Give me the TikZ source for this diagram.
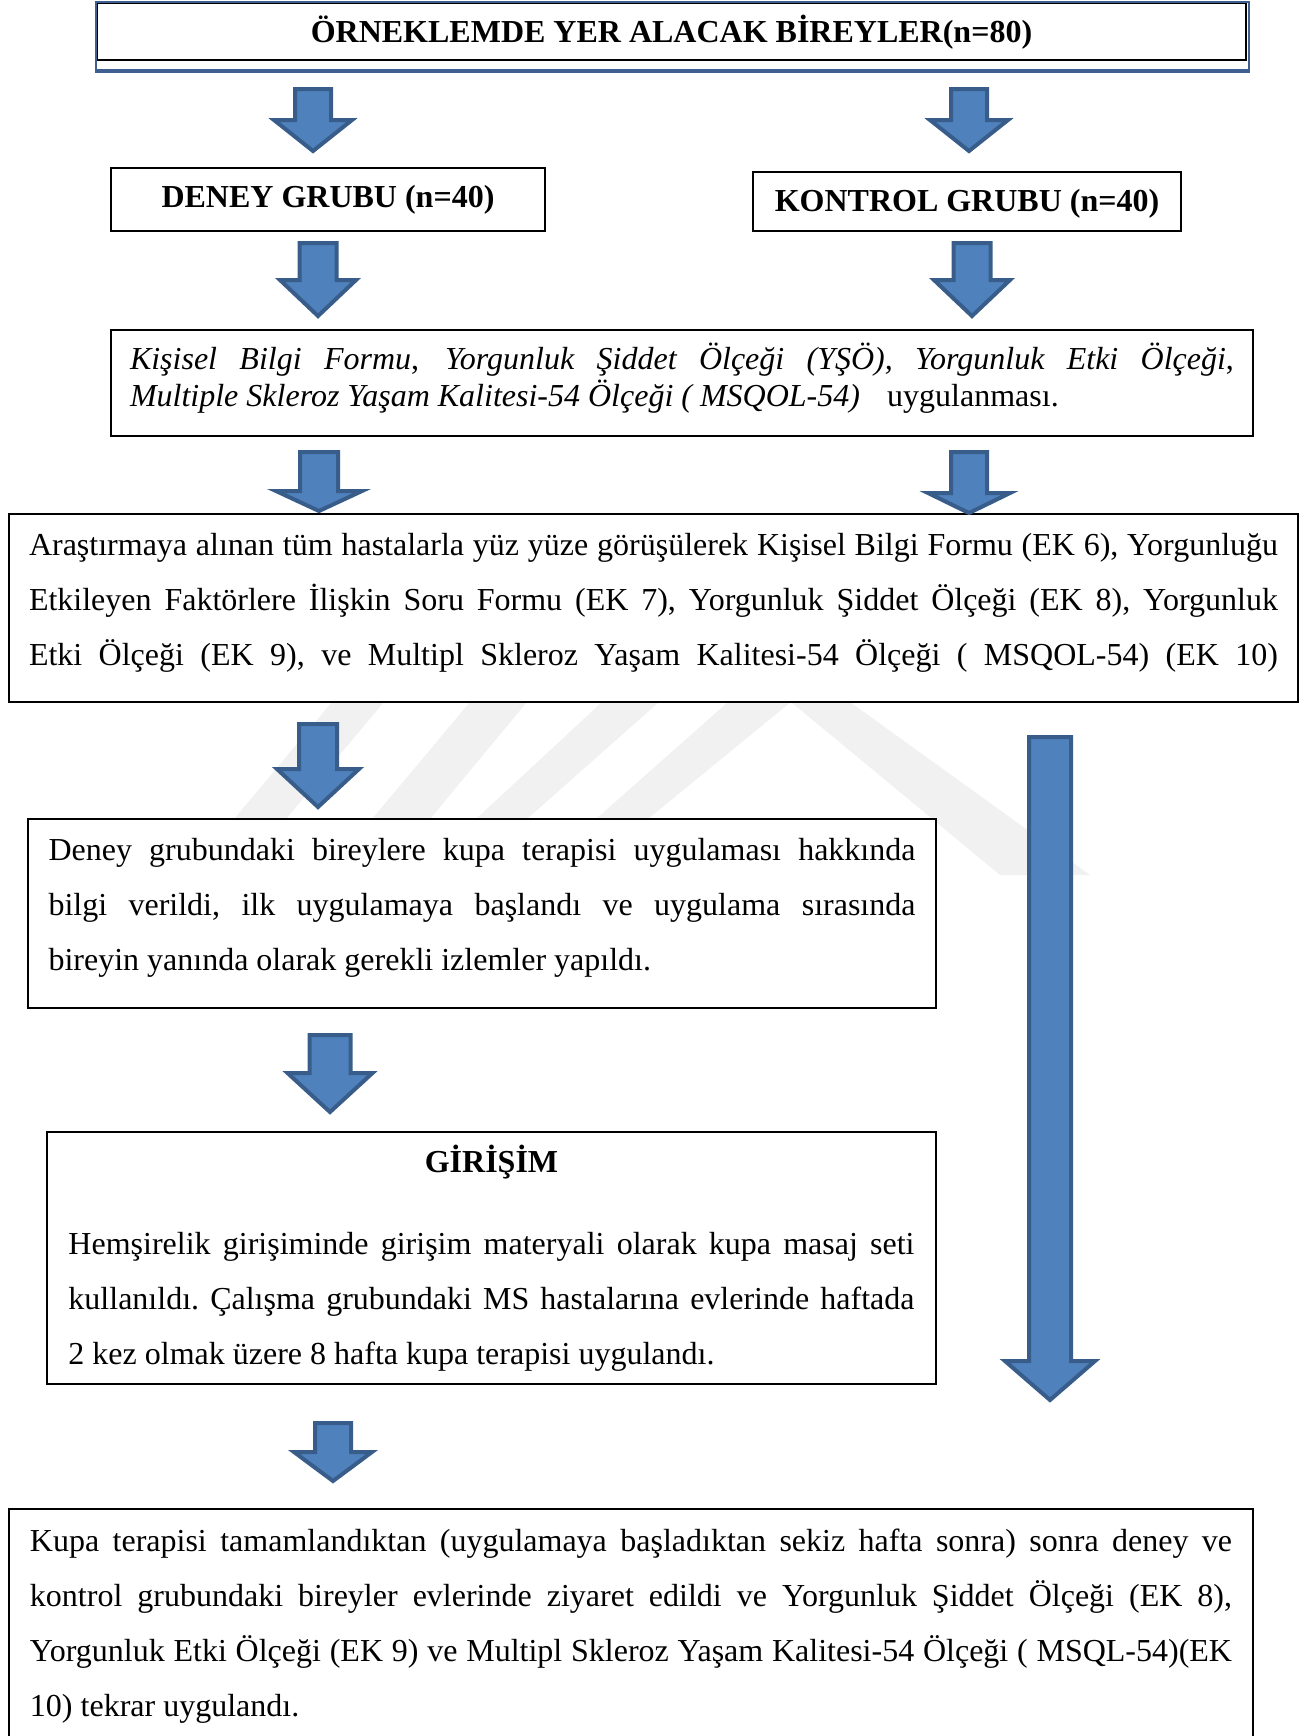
\documentclass[tikz,border=0pt]{standalone}
\usepackage{fontspec}
\setmainfont{Liberation Serif}
\usetikzlibrary{calc}

\definecolor{okmavi}{HTML}{4F81BD}
\definecolor{okkenar}{HTML}{385D8A}
\definecolor{cerceve}{HTML}{3E5F8F}
\definecolor{filigran}{HTML}{F1F1F1}

\newcommand{\govde}{\fontsize{16pt}{27.5pt}\selectfont\frenchspacing}
% extra room under the last line of a box
\newcommand{\altbosluk}[1]{\par\kern#1\hrule height 0pt width 0pt}
% block arrow: top, tip, shaft half, head half, head length (px)
\newcommand{\blokok}[5]{%
  \draw[okstil] ($(#1)+(-#3,0)$) -- ($(#1)+(#3,0)$) -- ($(#2)+(#3,-#5)$)
    -- ($(#2)+(#4,-#5)$) -- (#2) -- ($(#2)+(-#4,-#5)$) -- ($(#2)+(-#3,-#5)$) -- cycle;}

\tikzset{
  kutu/.style={draw=black, line width=0.8pt, fill=white, inner xsep=0pt, inner ysep=0pt, align=justify, font=\govde},
  baslik/.style={draw=black, line width=0.8pt, fill=white, inner sep=0pt, font=\govde\bfseries},
  okstil/.style={fill=okmavi, draw=okkenar, line width=2pt, line join=miter},
}

\begin{document}
\begin{tikzpicture}[x=0.5pt, y=-0.5pt]
    \useasboundingbox (0,0) rectangle (1311,1736);

    % Watermark in the background
    \fill[filigran] (332,702) -- (384,702) -- (286,819) -- (234,819) -- cycle;
    \fill[filigran] (470,702) -- (527,702) -- (430,819) -- (372,819) -- cycle;
    \fill[filigran] (602,702) -- (659,702) -- (527,819) -- (476,819) -- cycle;
    \fill[filigran] (728,702) -- (791,702) -- (648,819) -- (596,819) -- cycle;
    \fill[filigran] (791,702) -- (850,702) -- (1090,875) -- (1000,875) -- cycle;

    % Boxes
    \node[baslik, minimum width=574.5pt, minimum height=28.5pt] (ust) at (671.5,31.5)
        {\raisebox{-0.5pt}[\height][\depth]{ÖRNEKLEMDE YER ALACAK BİREYLER(n=80)}};
    \draw[cerceve, line width=0.75pt] (ust.north west) -- ($(ust.south west)+(0,11)$)
        -- ($(ust.south east)+(2,11)$) -- ($(ust.north east)+(2,0)$) -- cycle;
    \draw[cerceve, line width=2pt] ($(ust.south west)+(0,10)$) -- ($(ust.south east)+(2,10)$);
    \node[baslik, minimum width=217pt, minimum height=31.5pt] (deney) at (328,199.5)
        {DENEY GRUBU (n=40)};
    \node[baslik, minimum width=214pt, minimum height=29.5pt] (kontrol) at (967,201.5)
        {\raisebox{-1.2pt}[\height][\depth]{KONTROL GRUBU (n=40)}};

    \node[kutu, text width=552pt, minimum width=571pt, minimum height=53pt,
          font=\fontsize{16pt}{18.5pt}\selectfont] (olcek) at (682,383)
        {\itshape Kişisel Bilgi Formu\upshape, \itshape Yorgunluk Şiddet Ölçeği (YŞÖ), Yorgunluk Etki Ölçeği\upshape,\linebreak
         \itshape Multiple Skleroz Yaşam Kalitesi-54 Ölçeği ( MSQOL-54)\upshape\hspace{0.6em} uygulanması.\altbosluk{4.5pt}};

    \node[kutu, text width=624.5pt, minimum width=644.5pt, minimum height=94pt] (gorusme) at (653.5,608)
        {\parfillskip=0pt Araştırmaya alınan tüm hastalarla yüz yüze görüşülerek Kişisel Bilgi Formu (EK 6), Yorgunluğu\linebreak
         Etkileyen Faktörlere İlişkin Soru Formu (EK 7), Yorgunluk Şiddet Ölçeği (EK 8), Yorgunluk\linebreak
         Etki Ölçeği (EK 9), ve Multipl Skleroz Yaşam Kalitesi-54 Ölçeği ( MSQOL-54) (EK 10)\altbosluk{5.5pt}};

    \node[kutu, text width=433.5pt, minimum width=454pt, minimum height=94.5pt] (bilgi) at (482,913.5)
        {Deney grubundaki bireylere kupa terapisi uygulaması hakkında\linebreak
         bilgi verildi, ilk uygulamaya başlandı ve uygulama sırasında\linebreak
         bireyin yanında olarak gerekli izlemler yapıldı.\altbosluk{5.5pt}};

    \node[kutu, text width=423pt, minimum width=444.5pt, minimum height=126pt] (girisim) at (491.5,1258)
        {{\centering\bfseries GİRİŞİM\par}\vspace{13.5pt}
         Hemşirelik girişiminde girişim materyali olarak kupa masaj seti\linebreak
         kullanıldı. Çalışma grubundaki MS hastalarına evlerinde haftada\linebreak
         2 kez olmak üzere 8 hafta kupa terapisi uygulandı.};

    \node[kutu, anchor=north, text width=601pt, minimum width=622pt, inner ysep=10pt] (son) at (631,1508)
        {Kupa terapisi tamamlandıktan (uygulamaya başladıktan sekiz hafta sonra) sonra deney ve\linebreak
         kontrol grubundaki bireyler evlerinde ziyaret edildi ve Yorgunluk Şiddet Ölçeği (EK 8),\linebreak
         Yorgunluk Etki Ölçeği (EK 9) ve Multipl Skleroz Yaşam Kalitesi-54 Ölçeği ( MSQL-54)(EK\linebreak
         10) tekrar uygulandı.\altbosluk{30pt}};

    % Arrow end points
    \coordinate (o1a) at (313,89);   \coordinate (o1b) at (313,151);
    \coordinate (o2a) at (969,89);   \coordinate (o2b) at (969,151);
    \coordinate (o3a) at (318,243);  \coordinate (o3b) at (318,316);
    \coordinate (o4a) at (972,243);  \coordinate (o4b) at (972,316);
    \coordinate (o5a) at (319,452);  \coordinate (o5b) at (319,511);
    \coordinate (o6a) at (969,452);  \coordinate (o6b) at (969,513);
    \coordinate (o7a) at (318,724);  \coordinate (o7b) at (318,807);
    \coordinate (o8a) at (1050,737); \coordinate (o8b) at (1050,1400);
    \coordinate (o9a) at (330,1035); \coordinate (o9b) at (330,1112);
    \coordinate (o10a) at (333,1423); \coordinate (o10b) at (333,1481);

    % Block arrows
    \blokok{o1a}{o1b}{18}{39}{31}
    \blokok{o2a}{o2b}{18}{39}{31}
    \blokok{o3a}{o3b}{18.5}{38}{36}
    \blokok{o4a}{o4b}{18.5}{38}{36}
    \blokok{o5a}{o5b}{19}{43}{20}
    \blokok{o6a}{o6b}{18}{41}{20}
    \blokok{o7a}{o7b}{19}{41}{38}
    \blokok{o8a}{o8b}{21}{45}{39}
    \blokok{o9a}{o9b}{20.5}{42.5}{39}
    \blokok{o10a}{o10b}{18}{39}{29}

\end{tikzpicture}
\end{document}
